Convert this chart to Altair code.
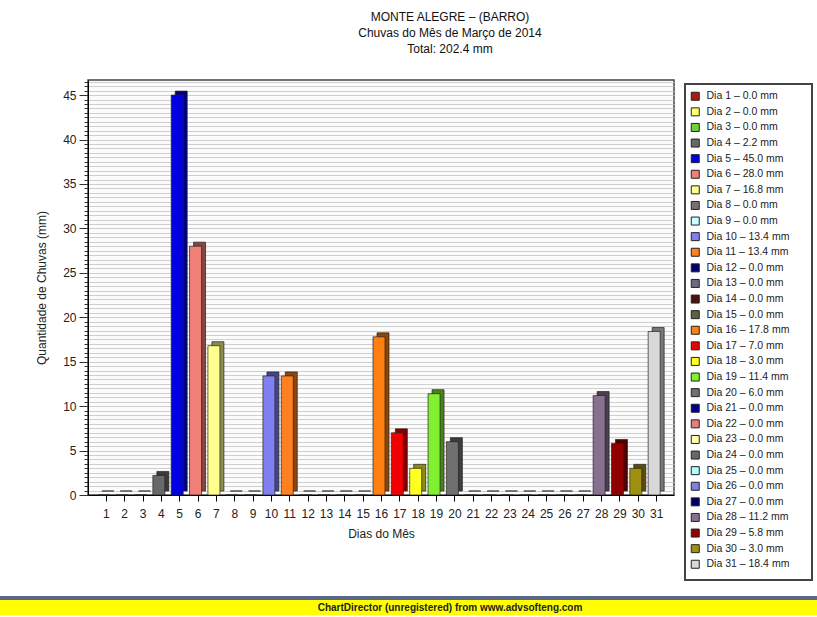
import altair as alt
import pandas as pd

# Daily rainfall, Monte Alegre (Barro), March 2014
days = list(range(1, 32))
rain_mm = [0.0, 0.0, 0.0, 2.2, 45.0, 28.0, 16.8, 0.0, 0.0, 13.4,
           13.4, 0.0, 0.0, 0.0, 0.0, 17.8, 7.0, 3.0, 11.4, 6.0,
           0.0, 0.0, 0.0, 0.0, 0.0, 0.0, 0.0, 11.2, 5.8, 3.0, 18.4]
bar_colors = ["#b01818", "#ffff70", "#70d040", "#686868", "#0000e0", "#f08078",
              "#ffff90", "#787070", "#c8ffff", "#8080f0", "#ff8020", "#000070",
              "#706880", "#501010", "#606040", "#ff8010", "#f00000", "#ffff20",
              "#80f030", "#707070", "#000090", "#e08080", "#ffffb0", "#686868",
              "#b0ffff", "#8080e0", "#000060", "#887090", "#900000", "#a09010",
              "#d8d8d8"]
title_lines = ["MONTE ALEGRE \u2013 (BARRO)",
               "Chuvas do M\u00eas de Mar\u00e7o de 2014",
               "Total: %.1f mm" % sum(rain_mm)]
footer_text = "ChartDirector (unregistered) from www.advsofteng.com"

FONT = "Liberation Sans"
W, H = 586, 415


def darker(hex_color, k=0.55):
    r, g, b = (int(hex_color[i:i + 2], 16) for i in (1, 3, 5))
    return "#%02x%02x%02x" % (int(r * k), int(g * k), int(b * k))


labels = ["Dia %d \u2013 %.1f mm" % (d, v) for d, v in zip(days, rain_mm)]
df = pd.DataFrame({
    "dia": days,
    "mm": rain_mm,
    "rotulo": labels,
    "lado": [darker(c) for c in bar_colors],
})

x_scale = alt.Scale(domain=[0.3, 31.7], nice=False, zero=False)
y_scale = alt.Scale(domain=[0, 46.7], nice=False)
y_ticks = [i / 2 for i in range(0, 94)]

x_axis = alt.Axis(values=days, format="d", labelFontSize=12, labelFont=FONT,
                  labelColor="#222", tickSize=6, tickColor="#000", domainColor="#000",
                  labelPadding=7, labelOverlap=False, grid=False,
                  title="Dias do M\u00eas", titleFont=FONT, titleFontSize=12,
                  titleFontWeight="normal", titleColor="#222", titlePadding=9)
y_axis = alt.Axis(values=y_ticks,
                  labelExpr="datum.value % 5 === 0 ? format(datum.value, 'd') : ''",
                  tickSize={"condition": {"test": "datum.value % 5 === 0", "value": 9},
                            "value": 4},
                  tickColor="#333", domainColor="#000", labelFontSize=12, labelFont=FONT,
                  labelColor="#222", labelOverlap=False, labelPadding=3,
                  grid=True, gridColor="#c4c4c4", gridWidth=0.8,
                  title="Quantidade de Chuvas (mm)", titleFont=FONT, titleFontSize=12,
                  titleFontWeight="normal", titleColor="#222", titlePadding=14)

X = alt.X("dia:Q", scale=x_scale, axis=x_axis)
Y = alt.Y("mm:Q", scale=y_scale, axis=y_axis)

base = alt.Chart(df)

# depth face of each bar (drawn behind, shifted up and right)
side = base.mark_bar(width=12, xOffset=2, yOffset=-4, stroke="#222",
                     strokeWidth=0.7).encode(
    x=X, y=Y,
    fill=alt.Fill("lado:N", scale=None, legend=None),
)

front = base.mark_bar(width=12, xOffset=-2, stroke="#222", strokeWidth=0.7).encode(
    x=X, y=Y,
    color=alt.Color(
        "rotulo:N",
        scale=alt.Scale(domain=labels, range=bar_colors),
        legend=alt.Legend(
            title=None, orient="none", legendX=602, legendY=11,
            symbolType="square", symbolSize=64, symbolStrokeColor="#222",
            symbolStrokeWidth=1, labelFont=FONT, labelFontSize=10.5,
            labelColor="#222", rowPadding=2.6, labelLimit=200, columns=1,
            symbolLimit=0, labelOffset=6,
        ),
    ),
)

one = pd.DataFrame({"k": [0]})

legend_box = alt.Chart(one).mark_rect(fill="white", stroke="#444", strokeWidth=2).encode(
    x=alt.value(597), x2=alt.value(724), y=alt.value(4), y2=alt.value(500)
)

footer_bar = alt.Chart(one).mark_rect(fill="#ffff00").encode(
    x=alt.value(-88), x2=alt.value(729), y=alt.value(520), y2=alt.value(535)
)
footer_line = alt.Chart(one).mark_rect(fill="#5a6688").encode(
    x=alt.value(-88), x2=alt.value(729), y=alt.value(516), y2=alt.value(520)
)
footer_label = alt.Chart(one).mark_text(
    text=footer_text, font=FONT, fontSize=10, fontWeight="bold", color="#222",
    align="center", baseline="middle"
).encode(x=alt.value(362), y=alt.value(528))

chart = alt.layer(
    legend_box, footer_line, footer_bar, footer_label, side, front
).resolve_scale(
    color="independent", fill="independent"
).properties(
    width=W, height=H,
    padding={"left": 88, "top": 80, "right": 143, "bottom": 122},
    autosize=alt.AutoSizeParams(type="none"),
    background="white",
    title=alt.TitleParams(text=title_lines, anchor="middle", dx=69, offset=20,
                          font=FONT, fontSize=12, fontWeight="normal",
                          color="#111", lineHeight=16),
).configure_view(
    fill="#fbfbfb", stroke="#444", strokeWidth=1.5
)

chart.save("out.html", embed_options={"renderer": "svg", "actions": False})
